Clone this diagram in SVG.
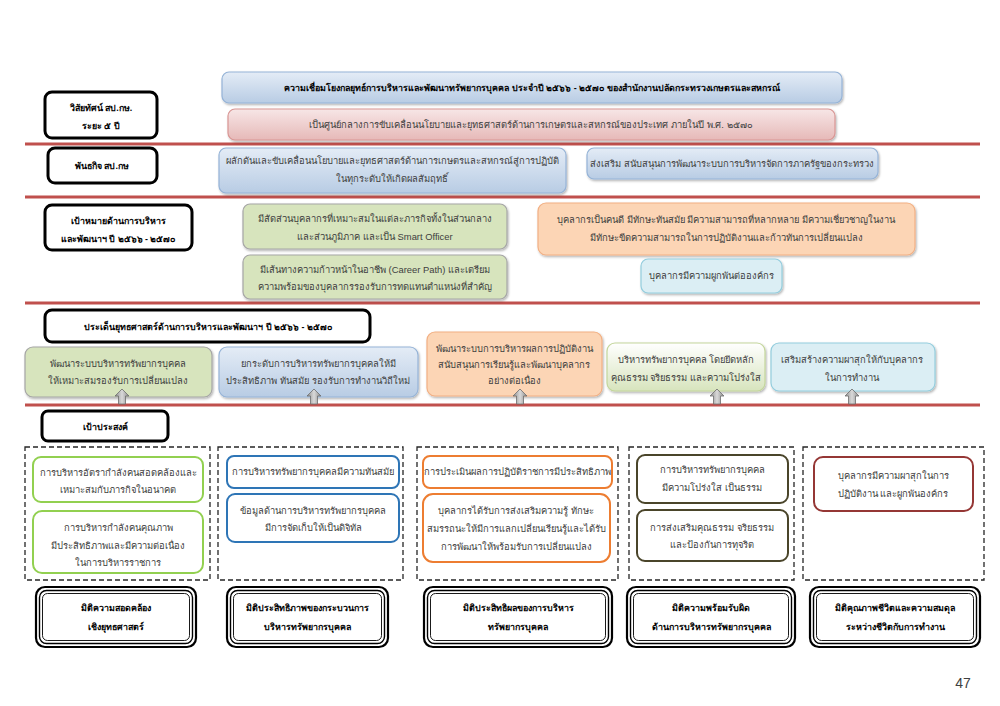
<svg xmlns="http://www.w3.org/2000/svg" width="1000" height="706" viewBox="0 0 1000 706">
<defs>
<linearGradient id="gBlue" x1="0" y1="0" x2="0" y2="1"><stop offset="0" stop-color="#e4ecf6"/><stop offset="1" stop-color="#b8cce4"/></linearGradient>
<linearGradient id="gPink" x1="0" y1="0" x2="0" y2="1"><stop offset="0" stop-color="#f7e6e6"/><stop offset="1" stop-color="#e6b9b8"/></linearGradient>
<linearGradient id="gGreenW" x1="0" y1="0" x2="0" y2="1"><stop offset="0" stop-color="#ffffff"/><stop offset="1" stop-color="#d7e4bd"/></linearGradient>
<linearGradient id="gArrow" x1="0" y1="0" x2="1" y2="0"><stop offset="0" stop-color="#8c8c8c"/><stop offset="0.5" stop-color="#d9d9d9"/><stop offset="1" stop-color="#8c8c8c"/></linearGradient>
<filter id="sh" x="-5%" y="-10%" width="110%" height="130%"><feDropShadow dx="1" dy="1.5" stdDeviation="1" flood-color="#000" flood-opacity="0.3"/></filter>
</defs>
<style>
text{font-family:"Liberation Sans","Noto Sans",sans-serif;font-size:9.4px;fill:#404040;text-anchor:middle}
.b{font-weight:bold;fill:#000;font-size:8.9px}
.sep{stroke:#c0504d;stroke-width:3}
.lbl{fill:#fff;stroke:#000;stroke-width:3}
.blue{fill:url(#gBlue);stroke:#95b3d7;stroke-width:1.2}
.pink{fill:url(#gPink);stroke:#d99694;stroke-width:1.2}
.green{fill:#d7e4bd;stroke:#a6a6a6;stroke-width:1.2}
.orange{fill:#fcd5b5;stroke:#f2b084;stroke-width:1.2}
.lblue{fill:#dbeef4;stroke:#93cddd;stroke-width:1.2}
.gw{fill:url(#gGreenW);stroke:#c3d69b;stroke-width:1.2}
.dash{fill:none;stroke:#262626;stroke-width:1.3;stroke-dasharray:5,3}
.ob{fill:#fff;stroke-width:2}
.arr{fill:url(#gArrow);stroke:#6d6d6d;stroke-width:0.8}
.d1{fill:#fff;stroke:#000;stroke-width:2.2}
.d2{fill:none;stroke:#000;stroke-width:1.4}
.d3{fill:none;stroke:#000;stroke-width:0.9}
</style>

<g id="separators">
<line class="sep" x1="25" y1="144" x2="980" y2="144"/>
<line class="sep" x1="25" y1="197" x2="980" y2="197"/>
<line class="sep" x1="25" y1="303" x2="980" y2="303"/>
<line class="sep" x1="25" y1="405" x2="980" y2="405"/>
</g>

<g id="title">
<rect class="blue" x="222" y="72" width="620" height="31" rx="7" filter="url(#sh)"/>
<text class="b" x="532" y="91">ความเชื่อมโยงกลยุทธ์การบริหารและพัฒนาทรัพยากรบุคคล ประจำปี ๒๕๖๖ - ๒๕๗๐ ของสำนักงานปลัดกระทรวงเกษตรและสหกรณ์</text>
</g>

<g id="vision-label">
<rect class="lbl" x="45" y="92" width="112" height="46" rx="7"/>
<text class="b" x="101" y="111">วิสัยทัศน์ สป.กษ.</text>
<text class="b" x="101" y="129">ระยะ ๕ ปี</text>
</g>
<g id="vision">
<rect class="pink" x="228" y="109" width="607" height="31" rx="7" filter="url(#sh)"/>
<text x="531" y="128">เป็นศูนย์กลางการขับเคลื่อนนโยบายและยุทธศาสตร์ด้านการเกษตรและสหกรณ์ของประเทศ ภายในปี พ.ศ. ๒๕๗๐</text>
</g>

<g id="mission-label">
<rect class="lbl" x="48" y="148" width="109" height="35" rx="7"/>
<text class="b" x="102" y="169">พันธกิจ สป.กษ</text>
</g>
<g id="mission-1">
<rect class="blue" x="219" y="148" width="347" height="45" rx="7" filter="url(#sh)"/>
<text x="392" y="164">ผลักดันและขับเคลื่อนนโยบายและยุทธศาสตร์ด้านการเกษตรและสหกรณ์สู่การปฏิบัติ</text>
<text x="392" y="182">ในทุกระดับให้เกิดผลสัมฤทธิ์</text>
</g>
<g id="mission-2">
<rect class="blue" x="587" y="148" width="291" height="31" rx="7" filter="url(#sh)"/>
<text x="732" y="167">ส่งเสริม สนับสนุนการพัฒนาระบบการบริหารจัดการภาครัฐของกระทรวง</text>
</g>

<g id="goal-label">
<rect class="lbl" x="45" y="205" width="147" height="45" rx="7"/>
<text class="b" x="118" y="224">เป้าหมายด้านการบริหาร</text>
<text class="b" x="118" y="242">และพัฒนาฯ ปี ๒๕๖๖ - ๒๕๗๐</text>
</g>
<g id="goal-1">
<rect class="green" x="243" y="204" width="264" height="45" rx="7" filter="url(#sh)"/>
<text x="375" y="222">มีสัดส่วนบุคลากรที่เหมาะสมในแต่ละภารกิจทั้งในส่วนกลาง</text>
<text x="375" y="240">และส่วนภูมิภาค และเป็น Smart Officer</text>
</g>
<g id="goal-2">
<rect class="green" x="243" y="255" width="264" height="44" rx="7" filter="url(#sh)"/>
<text x="375" y="273">มีเส้นทางความก้าวหน้าในอาชีพ (Career Path) และเตรียม</text>
<text x="375" y="290">ความพร้อมของบุคลากรรองรับการทดแทนตำแหน่งที่สำคัญ</text>
</g>
<g id="goal-3">
<rect class="orange" x="538" y="203" width="377" height="52" rx="8" filter="url(#sh)"/>
<text x="726" y="223">บุคลากรเป็นคนดี มีทักษะทันสมัย มีความสามารถที่หลากหลาย มีความเชี่ยวชาญในงาน</text>
<text x="726" y="241">มีทักษะขีดความสามารถในการปฏิบัติงานและก้าวทันการเปลี่ยนแปลง</text>
</g>
<g id="goal-4">
<rect class="lblue" x="641" y="259" width="141" height="34" rx="7" filter="url(#sh)"/>
<text x="711" y="279">บุคลากรมีความผูกพันต่อองค์กร</text>
</g>

<g id="strategy-label">
<rect class="lbl" x="45" y="310" width="325" height="32" rx="7"/>
<text class="b" x="208" y="330">ประเด็นยุทธศาสตร์ด้านการบริหารและพัฒนาฯ ปี ๒๕๖๖ - ๒๕๗๐</text>
</g>
<g id="strategy-1">
<rect class="green" x="25" y="347" width="187" height="50" rx="8" filter="url(#sh)"/>
<text x="118" y="367">พัฒนาระบบบริหารทรัพยากรบุคคล</text>
<text x="118" y="384">ให้เหมาะสมรองรับการเปลี่ยนแปลง</text>
</g>
<g id="strategy-2">
<rect class="blue" x="219" y="347" width="199" height="50" rx="8" filter="url(#sh)"/>
<text x="318" y="367">ยกระดับการบริหารทรัพยากรบุคคลให้มี</text>
<text x="318" y="384">ประสิทธิภาพ ทันสมัย รองรับการทำงานวิถีใหม่</text>
</g>
<g id="strategy-3">
<rect class="orange" x="427" y="332" width="175" height="64" rx="8" filter="url(#sh)"/>
<text x="514" y="352">พัฒนาระบบการบริหารผลการปฏิบัติงาน</text>
<text x="514" y="368">สนับสนุนการเรียนรู้และพัฒนาบุคลากร</text>
<text x="514" y="384">อย่างต่อเนื่อง</text>
</g>
<g id="strategy-4">
<rect class="gw" x="607" y="343" width="158" height="48" rx="8" filter="url(#sh)"/>
<text x="686" y="363">บริหารทรัพยากรบุคคล โดยยึดหลัก</text>
<text x="686" y="381">คุณธรรม จริยธรรม และความโปร่งใส</text>
</g>
<g id="strategy-5">
<rect class="lblue" x="771" y="343" width="164" height="48" rx="8" filter="url(#sh)"/>
<text x="852" y="363">เสริมสร้างความผาสุกให้กับบุคลากร</text>
<text x="852" y="381">ในการทำงาน</text>
</g>

<g id="connectors">
<path class="arr" d="M122,389 L129,396 L125.5,396 L125.5,404 L118.5,404 L118.5,396 L115,396 Z"/>
<path class="arr" d="M314,389 L321,396 L317.5,396 L317.5,404 L310.5,404 L310.5,396 L307,396 Z"/>
<path class="arr" d="M520,389 L527,396 L523.5,396 L523.5,404 L516.5,404 L516.5,396 L513,396 Z"/>
<path class="arr" d="M717,389 L724,396 L720.5,396 L720.5,404 L713.5,404 L713.5,396 L710,396 Z"/>
<path class="arr" d="M852,389 L859,396 L855.5,396 L855.5,404 L848.5,404 L848.5,396 L845,396 Z"/>
</g>

<g id="objective-label">
<rect class="lbl" x="42" y="411" width="126" height="30" rx="6"/>
<text class="b" x="105" y="430">เป้าประสงค์</text>
</g>

<g id="objective-group-1">
<rect class="dash" x="25" y="447" width="185" height="133"/>
<rect class="ob" stroke="#92d050" x="33" y="457" width="170" height="45" rx="8"/>
<text x="118" y="476">การบริหารอัตรากำลังคนสอดคล้องและ</text>
<text x="118" y="493">เหมาะสมกับภารกิจในอนาคต</text>
<rect class="ob" stroke="#92d050" x="33" y="511" width="170" height="62" rx="9"/>
<text x="118" y="531">การบริหารกำลังคนคุณภาพ</text>
<text x="118" y="549">มีประสิทธิภาพและมีความต่อเนื่อง</text>
<text x="118" y="566">ในการบริหารราชการ</text>
</g>
<g id="objective-group-2">
<rect class="dash" x="218" y="447" width="185" height="133"/>
<rect class="ob" stroke="#2e75b6" x="227" y="456" width="172" height="32" rx="7"/>
<text x="313" y="475">การบริหารทรัพยากรบุคคลมีความทันสมัย</text>
<rect class="ob" stroke="#2e75b6" x="227" y="494" width="172" height="48" rx="8"/>
<text x="313" y="514">ข้อมูลด้านการบริหารทรัพยากรบุคคล</text>
<text x="313" y="531">มีการจัดเก็บให้เป็นดิจิทัล</text>
</g>
<g id="objective-group-3">
<rect class="dash" x="417" y="447" width="201" height="133"/>
<rect class="ob" stroke="#ed7d31" x="423" y="456" width="189" height="32" rx="7"/>
<text x="517" y="475">การประเมินผลการปฏิบัติราชการมีประสิทธิภาพ</text>
<rect class="ob" stroke="#ed7d31" x="423" y="494" width="187" height="68" rx="10"/>
<text x="516" y="514">บุคลากรได้รับการส่งเสริมความรู้ ทักษะ</text>
<text x="516" y="532">สมรรถนะให้มีการแลกเปลี่ยนเรียนรู้และได้รับ</text>
<text x="516" y="550">การพัฒนาให้พร้อมรับการเปลี่ยนแปลง</text>
</g>
<g id="objective-group-4">
<rect class="dash" x="629" y="447" width="165" height="133"/>
<rect class="ob" stroke="#4a452a" x="637" y="455" width="151" height="48" rx="8"/>
<text x="712" y="473">การบริหารทรัพยากรบุคคล</text>
<text x="712" y="491">มีความโปร่งใส เป็นธรรม</text>
<rect class="ob" stroke="#4a452a" x="637" y="510" width="151" height="51" rx="8"/>
<text x="712" y="531">การส่งเสริมคุณธรรม จริยธรรม</text>
<text x="712" y="548">และป้องกันการทุจริต</text>
</g>
<g id="objective-group-5">
<rect class="dash" x="803" y="447" width="181" height="133"/>
<rect class="ob" stroke="#953735" x="814" y="457" width="159" height="54" rx="9"/>
<text x="893" y="479">บุคลากรมีความผาสุกในการ</text>
<text x="893" y="497">ปฏิบัติงาน และผูกพันองค์กร</text>
</g>

<g id="dimension-1">
<rect class="d1" x="36" y="587" width="160" height="60" rx="9"/>
<rect class="d2" x="39.5" y="590.5" width="153" height="53" rx="7"/>
<rect class="d3" x="42.5" y="593.5" width="147" height="47" rx="5"/>
<text class="b" x="116" y="611">มิติความสอดคล้อง</text>
<text class="b" x="116" y="630">เชิงยุทธศาสตร์</text>
</g>
<g id="dimension-2">
<rect class="d1" x="227" y="587" width="161" height="60" rx="9"/>
<rect class="d2" x="230.5" y="590.5" width="154" height="53" rx="7"/>
<rect class="d3" x="233.5" y="593.5" width="148" height="47" rx="5"/>
<text class="b" x="307" y="611">มิติประสิทธิภาพของกระบวนการ</text>
<text class="b" x="307" y="630">บริหารทรัพยากรบุคคล</text>
</g>
<g id="dimension-3">
<rect class="d1" x="424" y="587" width="188" height="60" rx="9"/>
<rect class="d2" x="427.5" y="590.5" width="181" height="53" rx="7"/>
<rect class="d3" x="430.5" y="593.5" width="175" height="47" rx="5"/>
<text class="b" x="518" y="611">มิติประสิทธิผลของการบริหาร</text>
<text class="b" x="518" y="630">ทรัพยากรบุคคล</text>
</g>
<g id="dimension-4">
<rect class="d1" x="627" y="587" width="168" height="60" rx="9"/>
<rect class="d2" x="630.5" y="590.5" width="161" height="53" rx="7"/>
<rect class="d3" x="633.5" y="593.5" width="155" height="47" rx="5"/>
<text class="b" x="711" y="611">มิติความพร้อมรับผิด</text>
<text class="b" x="711" y="630">ด้านการบริหารทรัพยากรบุคคล</text>
</g>
<g id="dimension-5">
<rect class="d1" x="810" y="587" width="170" height="60" rx="9"/>
<rect class="d2" x="813.5" y="590.5" width="163" height="53" rx="7"/>
<rect class="d3" x="816.5" y="593.5" width="157" height="47" rx="5"/>
<text class="b" x="895" y="611">มิติคุณภาพชีวิตและความสมดุล</text>
<text class="b" x="895" y="630">ระหว่างชีวิตกับการทำงาน</text>
</g>

<text x="963" y="688" style="font-size:14px;fill:#404040">47</text>
</svg>
